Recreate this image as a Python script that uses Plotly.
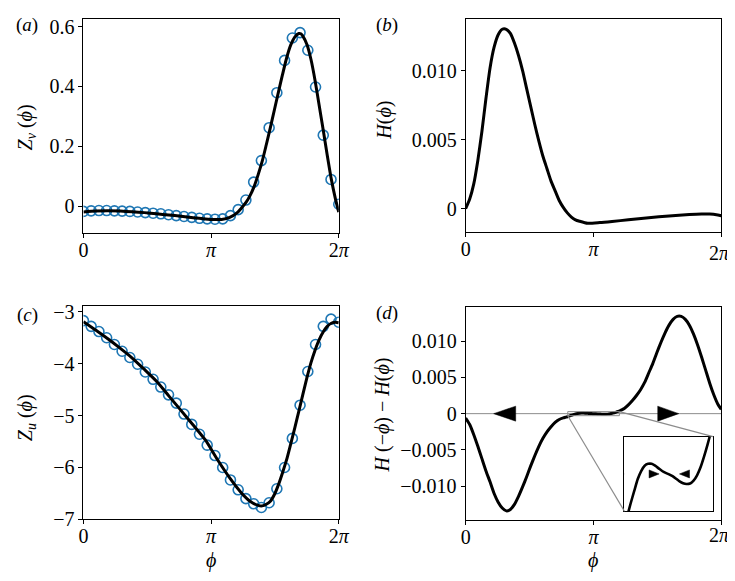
import plotly.graph_objects as go

# canvas
W, H = 735, 581
TWO_PI = 6.283185

# sample points (circles), 34 phases over one period
PHI_PTS = [0.0, 0.190, 0.381, 0.571, 0.762, 0.952, 1.142, 1.333, 1.523, 1.714,
           1.904, 2.094, 2.285, 2.475, 2.666, 2.856, 3.046, 3.237, 3.427, 3.618,
           3.808, 3.998, 4.189, 4.379, 4.570, 4.760, 4.950, 5.141, 5.331, 5.522,
           5.712, 5.902, 6.093, 6.283]
ZV_PTS = [-0.018, -0.016, -0.015, -0.015, -0.016, -0.017, -0.018, -0.020, -0.022, -0.024,
          -0.026, -0.029, -0.032, -0.035, -0.038, -0.041, -0.043, -0.044, -0.043, -0.032,
          -0.012, 0.020, 0.080, 0.152, 0.262, 0.379, 0.487, 0.562, 0.580, 0.521,
          0.398, 0.237, 0.089, 0.006]
ZU_PTS = [-3.17, -3.28, -3.38, -3.50, -3.63, -3.76, -3.88, -4.01, -4.16, -4.30,
          -4.45, -4.60, -4.76, -4.97, -5.17, -5.36, -5.57, -5.77, -6.00, -6.24,
          -6.43, -6.60, -6.70, -6.77, -6.68, -6.41, -6.00, -5.44, -4.80, -4.15,
          -3.63, -3.28, -3.14, -3.20]

# (a) Z_v curve
PHI_ZV = [0.0, 0.3, 0.6, 0.9, 1.2, 1.5, 1.8, 2.1, 2.4, 2.7, 3.0, 3.2, 3.4, 3.6, 3.8, 3.9,
          4.0, 4.1, 4.2, 4.3, 4.4, 4.5, 4.6, 4.7, 4.8, 4.9, 5.0, 5.1, 5.2, 5.3, 5.35, 5.4,
          5.5, 5.6, 5.7, 5.8, 5.9, 6.0, 6.1, 6.2, 6.283]
ZV_LINE = [-0.020, -0.017, -0.016, -0.017, -0.019, -0.022, -0.026, -0.030, -0.034, -0.039,
           -0.043, -0.045, -0.045, -0.038, -0.020, -0.005, 0.012, 0.035, 0.065, 0.105,
           0.150, 0.205, 0.262, 0.322, 0.382, 0.440, 0.495, 0.538, 0.565, 0.577, 0.576,
           0.568, 0.540, 0.490, 0.420, 0.338, 0.255, 0.170, 0.090, 0.025, -0.020]

# (b) H curve
PHI_H = [0.0, 0.1, 0.2, 0.3, 0.4, 0.5, 0.6, 0.7, 0.8, 0.9, 1.0, 1.1, 1.2, 1.3, 1.4,
         1.5, 1.6, 1.7, 1.8, 1.9, 2.0, 2.1, 2.2, 2.3, 2.4, 2.5, 2.6, 2.7, 2.8,
         3.0, 3.3, 3.6, 4.0, 4.5, 5.0, 5.5, 5.8, 6.0, 6.2, 6.283]
H_LINE = [0.0000, 0.0007, 0.0018, 0.0035, 0.0056, 0.0080, 0.0102, 0.0117, 0.0126, 0.0130,
          0.0130, 0.0127, 0.0120, 0.0111, 0.0100, 0.0087, 0.0074, 0.0061, 0.0049, 0.0038,
          0.0029, 0.0020, 0.0013, 0.0006, 0.0001, -0.0003, -0.0006, -0.0008, -0.0009,
          -0.00105, -0.0010, -0.00092, -0.0008, -0.00065, -0.00052, -0.00042, -0.00038,
          -0.00038, -0.00045, -0.0005]

# (c) Z_u curve
PHI_ZU = [0.0, 0.3, 0.6, 0.9, 1.2, 1.5, 1.8, 2.1, 2.4, 2.7, 3.0, 3.3, 3.6, 3.9,
          4.1, 4.3, 4.4, 4.5, 4.6, 4.7, 4.8, 4.9, 5.0, 5.1, 5.2, 5.3, 5.4, 5.5,
          5.6, 5.7, 5.8, 5.9, 6.0, 6.1, 6.2, 6.283]
ZU_LINE = [-3.19, -3.35, -3.52, -3.70, -3.89, -4.11, -4.34, -4.62, -4.90, -5.18,
           -5.47, -5.85, -6.20, -6.50, -6.65, -6.73, -6.74, -6.71, -6.65, -6.52,
           -6.33, -6.10, -5.85, -5.55, -5.24, -4.92, -4.59, -4.27, -3.98, -3.74,
           -3.54, -3.39, -3.28, -3.22, -3.20, -3.21]

# (d) H(-phi) - H(phi)
PHI_DH = [0.0, 0.1, 0.2, 0.3, 0.4, 0.5, 0.6, 0.7, 0.8, 0.9, 1.0, 1.1, 1.2, 1.3, 1.4,
          1.5, 1.6, 1.7, 1.8, 1.9, 2.0, 2.1, 2.2, 2.3, 2.4,
          2.45, 2.5, 2.55, 2.6, 2.65, 2.7, 2.75, 2.8, 2.85, 2.9, 2.95, 3.0, 3.05, 3.1,
          3.15, 3.2, 3.25, 3.3, 3.35, 3.4, 3.45, 3.5, 3.55, 3.6, 3.65, 3.7, 3.75, 3.8, 3.85,
          3.9, 4.0, 4.1, 4.2, 4.3, 4.4, 4.5, 4.6, 4.7, 4.8, 4.9, 5.0, 5.1, 5.2, 5.3,
          5.4, 5.5, 5.6, 5.7, 5.8, 5.9, 6.0, 6.1, 6.2, 6.283]
DH_LINE = [-0.0006, -0.0015, -0.0029, -0.0045, -0.0062, -0.0079, -0.0094, -0.0110, -0.0122,
           -0.0130, -0.0134, -0.0132, -0.0125, -0.0114, -0.0101, -0.0087, -0.0072, -0.0058,
           -0.0045, -0.0034, -0.0025, -0.0018, -0.0012, -0.0008, -0.00058,
           -0.00050, -0.00042, -0.00032, -0.00022, -0.00013, -0.00004, 0.000022, 0.000062,
           0.000076, 0.000076, 0.000062, 0.000042, 0.000022, 0.000008, -0.000003, -0.000017,
           -0.000036, -0.000056, -0.000070, -0.000076, -0.000072, -0.000050, -0.000010,
           0.000050, 0.000130, 0.000220, 0.000320, 0.000430, 0.00055,
           0.0007, 0.0012, 0.0018, 0.0025, 0.0033, 0.0043, 0.0056, 0.0069, 0.0084, 0.0098,
           0.0111, 0.0122, 0.0130, 0.0134, 0.0134, 0.0130, 0.0122, 0.0110, 0.0095, 0.0078,
           0.0060, 0.0042, 0.0026, 0.0013, 0.0006]

# zoom window of the inset in (d)
INSET_X = [2.51, 3.78]
INSET_Y = [-0.00028, 0.00028]

PI_TICKS = [0, 3.141593, TWO_PI]
PI_TEXT = ['0', '<i>π</i>', '2<i>π</i>']
# right-column panels: the last label sits on the page edge, drawn as a note instead
PI_TEXT_EDGE = ['0', '<i>π</i>', '']

FONT = 'Liberation Serif, Times New Roman, serif'
BLUE = '#1f77b4'
GREY = '#8c8c8c'


def dom_x(p0, p1):
    return [p0 / W, p1 / W]


def dom_y(top, bottom):
    return [1 - bottom / H, 1 - top / H]


def axis(domain, rng, anchor, tickvals=None, ticktext=None, standoff=0):
    ax = dict(domain=domain, range=rng, anchor=anchor, showline=True, mirror=True,
              linecolor='black', linewidth=1, showgrid=False, zeroline=False,
              tickfont=dict(family=FONT, size=20, color='black'))
    if tickvals is None:
        ax.update(ticks='', showticklabels=False)
    else:
        ax.update(ticks='outside', ticklen=4, tickwidth=1, tickcolor='black',
                  tickmode='array', tickvals=tickvals, ticktext=ticktext,
                  ticklabeloverflow='allow', ticklabelstandoff=standoff)
    return ax


def line_trace(x, y, xa, ya, width=3):
    return go.Scatter(x=x, y=y, mode='lines', xaxis=xa, yaxis=ya,
                      line=dict(color='black', width=width, shape='spline', smoothing=0.6))


def circle_trace(x, y, xa, ya):
    return go.Scatter(x=x, y=y, mode='markers', xaxis=xa, yaxis=ya,
                      marker=dict(symbol='circle-open', size=10, color=BLUE,
                                  line=dict(width=1.6, color=BLUE)))


# panel boxes in pixels
XA, XB = dom_x(72, 333), dom_x(462.7, 724)
YA, YB = dom_y(6.5, 226), dom_y(6.5, 225.3)
YC, YD = dom_y(301, 520.7), dom_y(302.7, 521)
XI, YI = dom_x(625, 715.7), dom_y(435.7, 512.3)

RANGE_D = [-0.01461, 0.01465]
XSTAND = -5

fig = go.Figure()
fig.add_trace(circle_trace(PHI_PTS, ZV_PTS, 'x', 'y'))
fig.add_trace(line_trace(PHI_ZV, ZV_LINE, 'x', 'y'))
fig.add_trace(line_trace(PHI_H, H_LINE, 'x2', 'y2'))
fig.add_trace(circle_trace(PHI_PTS, ZU_PTS, 'x3', 'y3'))
fig.add_trace(line_trace(PHI_ZU, ZU_LINE, 'x3', 'y3'))
fig.add_trace(line_trace(PHI_DH, DH_LINE, 'x4', 'y4'))
fig.add_trace(line_trace(PHI_DH, DH_LINE, 'x5', 'y5', width=2.6))

fig.update_layout(
    width=W, height=H, margin=dict(l=0, r=0, t=0, b=0),
    paper_bgcolor='white', plot_bgcolor='white', showlegend=False,
    xaxis=axis(XA, [0, TWO_PI], 'y', PI_TICKS, PI_TEXT, XSTAND),
    yaxis=axis(YA, [-0.0894, 0.6244], 'x', [0, 0.2, 0.4, 0.6], ['0', '0.2', '0.4', '0.6']),
    xaxis2=axis(XB, [0, TWO_PI], 'y2', PI_TICKS, PI_TEXT_EDGE, XSTAND),
    yaxis2=axis(YB, [-0.00169, 0.01372], 'x2', [0, 0.005, 0.010], ['0', '0.005', '0.010']),
    xaxis3=axis(XA, [0, TWO_PI], 'y3', PI_TICKS, PI_TEXT, XSTAND),
    yaxis3=axis(YC, [-7, -2.882], 'x3', [-7, -6, -5, -4, -3],
                ['−7', '−6', '−5', '−4', '−3']),
    xaxis4=axis(XB, [0, TWO_PI], 'y4', PI_TICKS, PI_TEXT_EDGE, XSTAND),
    yaxis4=axis(YD, RANGE_D, 'x4', [-0.010, -0.005, 0, 0.005, 0.010],
                ['−0.010', '−0.005', '0', '0.005', '0.010']),
    xaxis5=axis(XI, INSET_X, 'y5'),
    yaxis5=axis(YI, INSET_Y, 'x5'),
)


def to_paper(x, y, xdom, xr, ydom, yr):
    px = xdom[0] + (x - xr[0]) / (xr[1] - xr[0]) * (xdom[1] - xdom[0])
    py = ydom[0] + (y - yr[0]) / (yr[1] - yr[0]) * (ydom[1] - ydom[0])
    return px, py


def triangle(xref, yref, x, size_w, size_h, pointing):
    hw, hh = size_w / 2, size_h / 2
    if pointing == 'left':
        path = f'M {-hw},0 L {hw},{hh} L {hw},{-hh} Z'
    else:
        path = f'M {hw},0 L {-hw},{hh} L {-hw},{-hh} Z'
    return dict(type='path', xref=xref, yref=yref, xsizemode='pixel', ysizemode='pixel',
                xanchor=x, yanchor=0, path=path, fillcolor='black',
                line=dict(color='black', width=0.5), layer='above')


shapes = [
    # zero lines
    dict(type='line', xref='x4 domain', yref='y4', x0=0, x1=1, y0=0, y1=0,
         line=dict(color=GREY, width=1), layer='below'),
    dict(type='line', xref='x5 domain', yref='y5', x0=0, x1=1, y0=0, y1=0,
         line=dict(color=GREY, width=1), layer='below'),
    # zoom rectangle on the main panel
    dict(type='rect', xref='x4', yref='y4', x0=INSET_X[0], x1=INSET_X[1],
         y0=INSET_Y[0], y1=INSET_Y[1], line=dict(color=GREY, width=1)),
    triangle('x4', 'y4', 0.96, 22, 15, 'left'),
    triangle('x4', 'y4', 4.98, 21, 15, 'right'),
    triangle('x5', 'y5', 2.935, 10, 8, 'right'),
    triangle('x5', 'y5', 3.37, 10, 8, 'left'),
]

# connector lines from the zoom rectangle to the inset corners
x0p, y0p = to_paper(INSET_X[0], INSET_Y[0], XB, [0, TWO_PI], YD, RANGE_D)
shapes.append(dict(type='line', xref='paper', yref='paper', x0=x0p, y0=y0p,
                   x1=XI[0], y1=YI[0], line=dict(color=GREY, width=1.2)))
x1p, y1p = to_paper(INSET_X[1], INSET_Y[1], XB, [0, TWO_PI], YD, RANGE_D)
shapes.append(dict(type='line', xref='paper', yref='paper', x0=x1p, y0=y1p,
                   x1=XI[1], y1=YI[1], line=dict(color=GREY, width=1.2)))
fig.update_layout(shapes=shapes)


def note(text, px, py, angle=0, xanchor='center', size=19):
    return dict(text=text, x=px / W, y=1 - py / H, xref='paper', yref='paper',
                showarrow=False, textangle=angle, xanchor=xanchor, yanchor='middle',
                font=dict(family=FONT, size=size, color='black'))


fig.update_layout(annotations=[
    note('(<i>a</i>)', 1, 12, xanchor='left'),
    note('(<i>b</i>)', 369, 12, xanchor='left'),
    note('(<i>c</i>)', 2, 311, xanchor='left'),
    note('(<i>d</i>)', 369, 309, xanchor='left'),
    note('<i>Z<sub>v</sub></i> (<i>ϕ</i>)', 14, 118, angle=-90, size=20),
    note('<i>H</i>(<i>ϕ</i>)', 380, 110, angle=-90, size=20),
    note('<i>Z<sub>u</sub></i> (<i>ϕ</i>)', 14, 416, angle=-90, size=20),
    note('<i>H</i> (−<i>ϕ</i>) − <i>H</i>(<i>ϕ</i>)', 378, 413, angle=-90, size=20),
    note('<i>ϕ</i>', 202.7, 563, size=20),
    note('<i>ϕ</i>', 593.3, 563, size=20),
    note('2<i>π</i>', 735, 247, xanchor='right', size=20),
    note('2<i>π</i>', 735, 537, xanchor='right', size=20),
])

fig.write_html('out.html')
